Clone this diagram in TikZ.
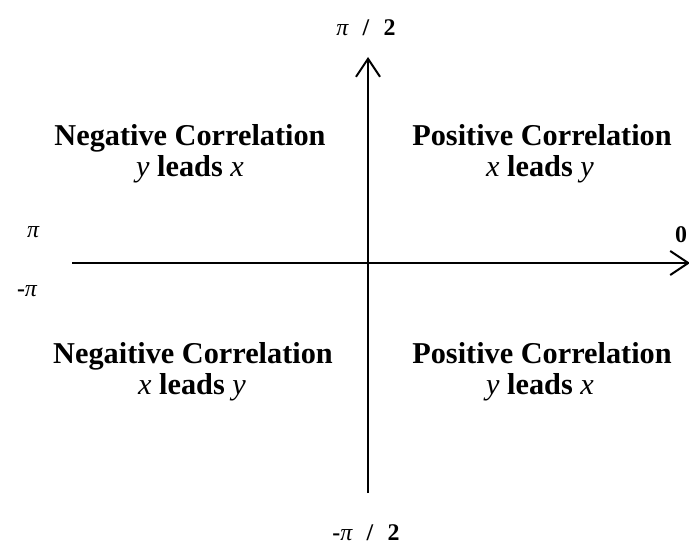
\documentclass[tikz,border=0pt]{standalone}
\usepackage{fontspec}
\setmainfont{Liberation Serif}
\usetikzlibrary{arrows.meta}

\newcommand{\pisym}{{\mdseries\itshape π}}
\newcommand{\xvar}{{\mdseries\itshape x}}
\newcommand{\yvar}{{\mdseries\itshape y}}

\tikzset{
  quad/.style={anchor=base,inner sep=0pt,font=\fontsize{15.2}{18}\selectfont\bfseries},
  axlabel/.style={anchor=base,inner sep=0pt,font=\fontsize{12}{14}\selectfont\bfseries},
  axis/.style={line width=1bp,-{Straight Barb[length=9bp,width=12bp]}}
}

\begin{document}
\begin{tikzpicture}[x={(0.5bp,0)},y={(0,-0.5bp)}]
\useasboundingbox (0,0) rectangle (689,544);
% axes
\coordinate (west) at (72,263);
\coordinate (east) at (690,263);
\coordinate (south) at (368,493);
\coordinate (north) at (368,57);
\draw[axis] (west) -- (east);
\draw[axis] (south) -- (north);
% axis labels
\node[axlabel] (top) at (366,36) {\pisym\hspace{0.6em}/\hspace{0.6em}2};
\node[axlabel] (bottom) at (366,540) {-\pisym\hspace{0.6em}/\hspace{0.6em}2};
\node[axlabel] (pileft) at (33,238) {\pisym};
\node[axlabel] (minuspi) at (27,297) {-\pisym};
\node[axlabel] (zero) at (681,243) {0};
% quadrants
\node[quad] (nwhead) at (190,146) {Negative Correlation};
\node[quad] (nwsub) at (190,177) {\yvar{} leads \xvar};
\node[quad] (nehead) at (542,146) {Positive Correlation};
\node[quad] (nesub) at (540,177) {\xvar{} leads \yvar};
\node[quad] (swhead) at (193,364) {Negaitive Correlation};
\node[quad] (swsub) at (192,395) {\xvar{} leads \yvar};
\node[quad] (sehead) at (542,364) {Positive Correlation};
\node[quad] (sesub) at (540,395) {\yvar{} leads \xvar};
\end{tikzpicture}
\end{document}
